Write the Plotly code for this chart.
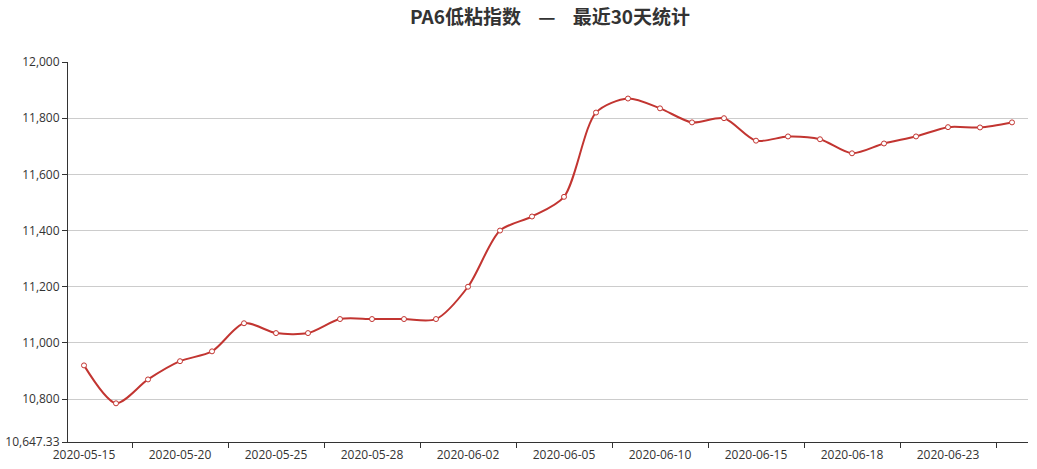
import plotly.graph_objects as go

dates = ["2020-05-15", "2020-05-18", "2020-05-19", "2020-05-20", "2020-05-21", "2020-05-22",
         "2020-05-25", "2020-05-26", "2020-05-27", "2020-05-28", "2020-05-29", "2020-06-01",
         "2020-06-02", "2020-06-03", "2020-06-04", "2020-06-05", "2020-06-08", "2020-06-09",
         "2020-06-10", "2020-06-11", "2020-06-12", "2020-06-15", "2020-06-16", "2020-06-17",
         "2020-06-18", "2020-06-19", "2020-06-22", "2020-06-23", "2020-06-24", "2020-06-26"]
values = [10920, 10785, 10870, 10935, 10970, 11070, 11035, 11035, 11085, 11085,
          11085, 11085, 11200, 11400, 11450, 11520, 11820, 11870, 11835, 11785,
          11800, 11720, 11735, 11725, 11675, 11710, 11735, 11768, 11767, 11785]
label_every = 3
y_ticks = [10647.33, 10800, 11000, 11200, 11400, 11600, 11800, 12000]
y_text = ["10,647.33", "10,800", "11,000", "11,200", "11,400", "11,600", "11,800", "12,000"]

idx = list(range(len(dates)))
label_idx = idx[::label_every]
minor_idx = [i + 1.5 for i in label_idx]

fig = go.Figure()
fig.add_trace(go.Scatter(
    x=idx, y=values, mode="lines+markers",
    line=dict(color="#c23531", width=2, shape="spline", smoothing=0.8),
    marker=dict(symbol="circle", size=5, color="white",
                line=dict(color="#c23531", width=1)),
    text=dates, hovertemplate="%{text}: %{y}<extra></extra>",
))

title_font = "Noto Sans CJK SC, sans-serif"
tick_font = "Open Sans, Noto Sans CJK SC, sans-serif"
fig.update_layout(
    width=1037, height=469,
    margin=dict(l=68, r=9, t=62, b=27),
    paper_bgcolor="white", plot_bgcolor="white",
    showlegend=False,
    title=dict(text="<b>PA6低粘指数    —    最近30天统计</b>",
               x=550 / 1037, xanchor="center", y=1 - 17 / 469, yanchor="middle",
               font=dict(size=19, color="#333", family=title_font)),
    font=dict(family=tick_font, size=12, color="#333"),
)
fig.update_xaxes(
    range=[-0.5, len(dates) - 0.5], automargin=False,
    tickmode="array", tickvals=label_idx, ticktext=[dates[i] for i in label_idx],
    ticks="", ticklabelstandoff=2,
    showgrid=False, zeroline=False,
    showline=True, linecolor="#333", linewidth=1,
    tickfont=dict(size=12, color="#333", family=tick_font),
    minor=dict(tickmode="array", tickvals=minor_idx, ticks="outside",
               ticklen=5, tickcolor="#333", tickwidth=1, showgrid=False),
)
fig.update_yaxes(
    range=[y_ticks[0], y_ticks[-1]], automargin=False,
    tickmode="array", tickvals=y_ticks, ticktext=y_text,
    ticks="outside", ticklen=5, tickcolor="#333",
    showgrid=True, gridcolor="#ccc", gridwidth=1, zeroline=False,
    showline=True, linecolor="#333", linewidth=1,
    tickfont=dict(size=12, color="#333", family=tick_font),
)
fig.write_html("out.html", config={"displayModeBar": False},
               post_script="document.body.style.margin='0';document.body.style.overflow='hidden';")
